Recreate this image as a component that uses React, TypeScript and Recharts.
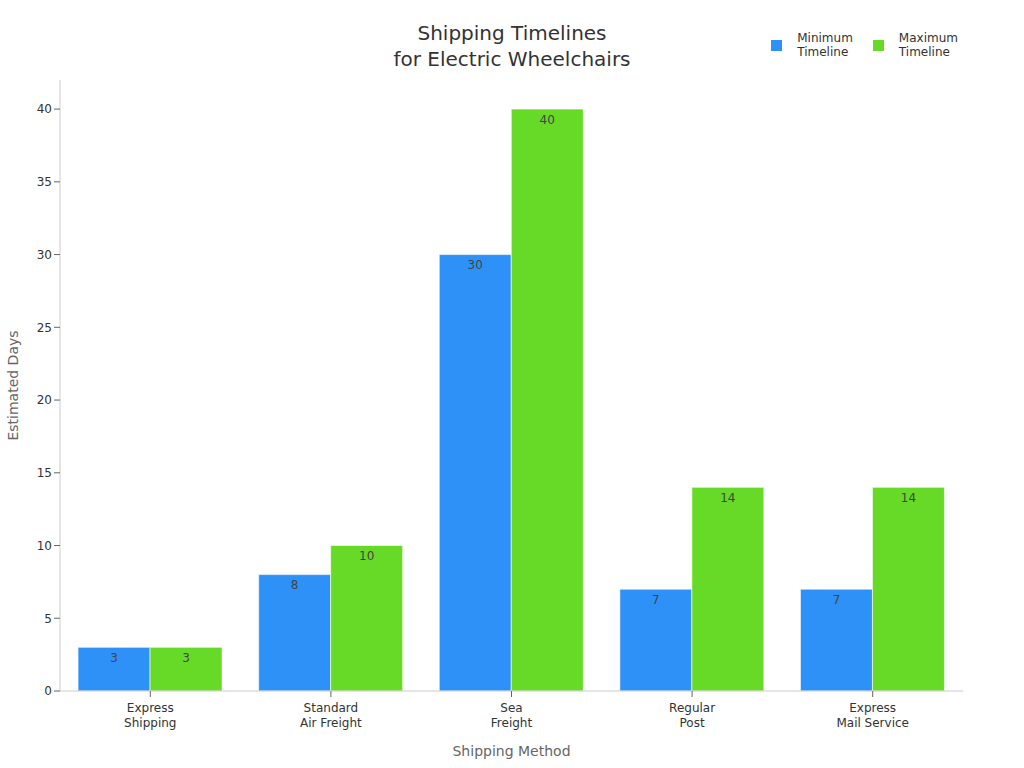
import React from "react";
import { Bar, BarChart, LabelList, XAxis, YAxis } from "recharts";

const methods = [
  "Express Shipping",
  "Standard Air Freight",
  "Sea Freight",
  "Regular Post",
  "Express Mail Service",
];
const methodLines = [
  ["Express", "Shipping"],
  ["Standard", "Air Freight"],
  ["Sea", "Freight"],
  ["Regular", "Post"],
  ["Express", "Mail Service"],
];
const minDays = [3, 8, 30, 7, 7];
const maxDays = [3, 10, 40, 14, 14];
const yTicks = [0, 5, 10, 15, 20, 25, 30, 35, 40];

const BLUE = "#2E91F7";
const GREEN = "#66DA26";
const FONT = "DejaVu Sans, Verdana, sans-serif";

const data = methods.map((name, i) => ({
  name,
  min: minDays[i],
  max: maxDays[i],
}));

function MethodTick(props: any) {
  const { x, y, payload } = props;
  const lines = methodLines[payload.index] ?? [payload.value];
  return (
    <text x={x} y={y + 4} textAnchor="middle" fill="#333" fontSize={12} fontFamily={FONT}>
      {lines.map((line, i) => (
        <tspan key={i} x={x} dy={i === 0 ? "0.71em" : 15}>
          {line}
        </tspan>
      ))}
    </text>
  );
}

function LegendBox() {
  const items = [
    { color: BLUE, lines: ["Minimum", "Timeline"] },
    { color: GREEN, lines: ["Maximum", "Timeline"] },
  ];
  return (
    <div
      style={{
        position: "absolute",
        top: 31,
        right: 66,
        display: "flex",
        gap: 20,
        fontFamily: FONT,
        fontSize: 12,
        color: "#333",
      }}
    >
      {items.map((item) => (
        <div key={item.lines[0]} style={{ display: "flex", alignItems: "center" }}>
          <div style={{ width: 11, height: 11, background: item.color, marginRight: 15 }} />
          <div style={{ lineHeight: "14px" }}>
            {item.lines[0]}
            <br />
            {item.lines[1]}
          </div>
        </div>
      ))}
    </div>
  );
}

export default function App() {
  return (
    <div style={{ position: "relative", width: 1024, height: 768, background: "#fff" }}>
      <style>{"body{margin:0}"}</style>
      <div
        style={{
          position: "absolute",
          top: 20,
          left: 0,
          width: 1024,
          textAlign: "center",
          fontFamily: FONT,
          fontSize: 20,
          lineHeight: "26px",
          color: "#333",
        }}
      >
        Shipping Timelines
        <br />
        for Electric Wheelchairs
      </div>
      <LegendBox />
      <BarChart
        width={1024}
        height={768}
        data={data}
        margin={{ top: 80, right: 61, bottom: 0, left: 0 }}
        barCategoryGap="10%"
        barGap={0}
      >
        <XAxis
          dataKey="name"
          height={77}
          tick={<MethodTick />}
          tickSize={6}
          stroke="#ccc"
          tickLine={{ stroke: "#666" }}
          interval={0}
          label={{
            value: "Shipping Method",
            position: "insideBottom",
            offset: 12,
            fill: "#666",
            fontSize: 14,
            fontFamily: FONT,
          }}
        />
        <YAxis
          width={60}
          domain={[0, 42]}
          ticks={yTicks}
          tickSize={6}
          stroke="#ccc"
          tickLine={{ stroke: "#666" }}
          tick={{ fill: "#333", fontSize: 12, fontFamily: FONT }}
          label={{
            value: "Estimated Days",
            angle: -90,
            position: "insideLeft",
            offset: 13,
            fill: "#666",
            fontSize: 14,
            fontFamily: FONT,
            style: { textAnchor: "middle" },
          }}
        />
        <Bar dataKey="min" name="Minimum Timeline" fill={BLUE} stroke="rgba(255,255,255,0.6)" isAnimationActive={false}>
          <LabelList dataKey="min" position="insideTop" offset={6} fill="#444" fontSize={12} fontFamily={FONT} />
        </Bar>
        <Bar dataKey="max" name="Maximum Timeline" fill={GREEN} stroke="rgba(255,255,255,0.6)" isAnimationActive={false}>
          <LabelList dataKey="max" position="insideTop" offset={6} fill="#444" fontSize={12} fontFamily={FONT} />
        </Bar>
      </BarChart>
    </div>
  );
}
